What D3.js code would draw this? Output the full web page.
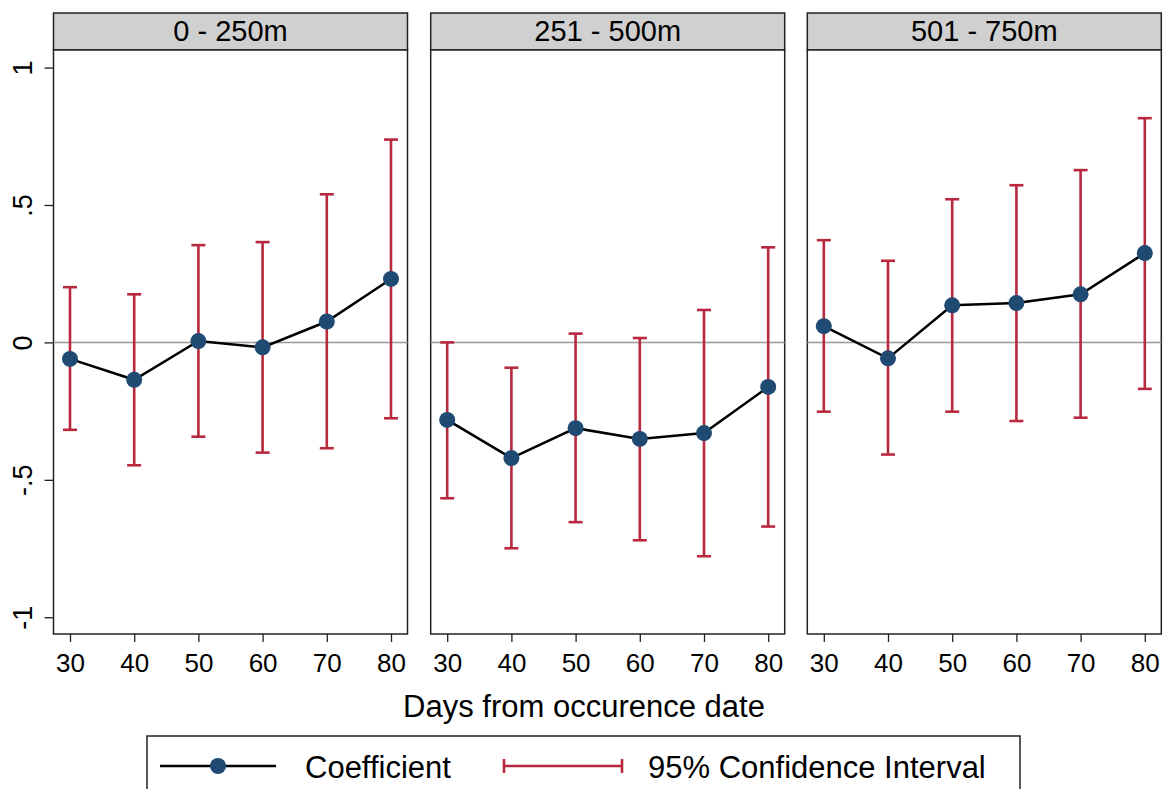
<!DOCTYPE html>
<html><head><meta charset="utf-8">
<script src="https://cdn.jsdelivr.net/npm/d3@7"></script>
<style>
body{margin:0;background:#fff;}
svg{display:block;font-family:"Liberation Sans",Arial,Helvetica,sans-serif;}
</style></head>
<body><svg id="chart" width="1170" height="789"></svg>
<script>
const panels = ["0 - 250m", "251 - 500m", "501 - 750m"];
const days = [30, 40, 50, 60, 70, 80];
const coef0 = [-0.060, -0.136, 0.005, -0.018, 0.076, 0.231];
const lo0 = [-0.318, -0.447, -0.343, -0.401, -0.385, -0.276];
const hi0 = [0.201, 0.175, 0.354, 0.365, 0.539, 0.738];
const coef1 = [-0.282, -0.421, -0.312, -0.351, -0.330, -0.162];
const lo1 = [-0.567, -0.749, -0.654, -0.720, -0.778, -0.670];
const hi1 = [0.000, -0.092, 0.032, 0.016, 0.118, 0.346];
const coef2 = [0.059, -0.058, 0.135, 0.143, 0.175, 0.325];
const lo2 = [-0.252, -0.408, -0.252, -0.286, -0.274, -0.169];
const hi2 = [0.372, 0.297, 0.521, 0.572, 0.627, 0.816];
const yTicks = [-1, -0.5, 0, 0.5, 1];
const yTickLabels = ["-1", "-.5", "0", ".5", "1"];
const xTitle = "Days from occurence date";
const legendLabels = ["Coefficient", "95% Confidence Interval"];

const coefs = [coef0, coef1, coef2], los = [lo0, lo1, lo2], his = [hi0, hi1, hi2];
const RED = "#b8283f", NAVY = "#1f4a72";
const FONT = "Liberation Sans, Arial, sans-serif";

const svg = d3.select("#chart");
const panelLeft = [53.5, 430.7, 807.3];
const panelW = 354;
const plotTop = 50, plotBottom = 634, stripTop = 13;

const y = d3.scaleLinear().domain([-1.061, 1.064]).range([plotBottom, plotTop]);

panels.forEach((name, i) => {
  const x0 = panelLeft[i];
  const x = d3.scaleLinear().domain([27.43, 82.57]).range([x0, x0 + panelW]);
  const g = svg.append("g");
  g.append("rect").attr("x", x0).attr("y", stripTop).attr("width", panelW).attr("height", plotTop - stripTop)
    .attr("fill", "#d0d0d0").attr("stroke", "#222").attr("stroke-width", 1.5);
  g.append("text").attr("x", x0 + panelW / 2).attr("y", 41).attr("text-anchor", "middle")
    .attr("font-size", 29).attr("fill", "#000").text(name);
  g.append("rect").attr("x", x0).attr("y", plotTop).attr("width", panelW).attr("height", plotBottom - plotTop)
    .attr("fill", "#fff").attr("stroke", "#222").attr("stroke-width", 1.5);
  g.append("line").attr("x1", x0).attr("x2", x0 + panelW).attr("y1", y(0)).attr("y2", y(0))
    .attr("stroke", "#999").attr("stroke-width", 1.5);
  const xa = g.append("g").attr("transform", `translate(0,${plotBottom})`)
    .call(d3.axisBottom(x).tickValues(days).tickSize(8).tickSizeOuter(0));
  xa.select(".domain").remove();
  xa.selectAll(".tick line").attr("stroke", "#222").attr("stroke-width", 1.3);
  xa.selectAll(".tick text").attr("font-size", 26).attr("fill", "#000").attr("font-family", FONT)
    .attr("y", 38).attr("dy", 0);
  if (i === 0) {
    const ya = g.append("g").attr("transform", `translate(${x0},0)`)
      .call(d3.axisLeft(y).tickValues(yTicks).tickFormat((d, k) => yTickLabels[k]).tickSize(9).tickSizeOuter(0));
    ya.select(".domain").remove();
    ya.selectAll(".tick line").attr("stroke", "#222").attr("stroke-width", 1.3);
    ya.selectAll(".tick text").attr("font-size", 27).attr("fill", "#000")
      .attr("font-family", FONT)
      .attr("text-anchor", "middle").attr("x", 0).attr("dy", 0)
      .attr("transform", `translate(${32 - x0},0) rotate(-90)`);
  }
  const rows = days.map((d, k) => ({d, c: coefs[i][k], lo: los[i][k], hi: his[i][k]}));
  rows.forEach(r => {
    const cx = x(r.d);
    g.append("line").attr("x1", cx).attr("x2", cx).attr("y1", y(r.lo)).attr("y2", y(r.hi))
      .attr("stroke", RED).attr("stroke-width", 2.6);
    [r.lo, r.hi].forEach(v => g.append("line").attr("x1", cx - 7).attr("x2", cx + 7)
      .attr("y1", y(v)).attr("y2", y(v)).attr("stroke", RED).attr("stroke-width", 2.6));
  });
  g.append("path").datum(rows)
    .attr("d", d3.line().x(r => x(r.d)).y(r => y(r.c)))
    .attr("fill", "none").attr("stroke", "#000").attr("stroke-width", 2.5);
  g.selectAll("circle.pt").data(rows).enter().append("circle")
    .attr("cx", r => x(r.d)).attr("cy", r => y(r.c)).attr("r", 8).attr("fill", NAVY);
});

svg.append("text").attr("x", 584).attr("y", 717).attr("text-anchor", "middle")
  .attr("font-size", 31).attr("fill", "#000").text(xTitle);

const lg = svg.append("g");
lg.append("rect").attr("x", 147).attr("y", 736).attr("width", 873).attr("height", 80)
  .attr("fill", "#fff").attr("stroke", "#222").attr("stroke-width", 1.5);
const ly = 766;
lg.append("line").attr("x1", 160).attr("x2", 276).attr("y1", ly).attr("y2", ly).attr("stroke", "#000").attr("stroke-width", 2.5);
lg.append("circle").attr("cx", 218).attr("cy", ly).attr("r", 8).attr("fill", NAVY);
lg.append("text").attr("x", 305).attr("y", 778).attr("font-size", 31).attr("fill", "#000").text(legendLabels[0]);
lg.append("line").attr("x1", 504).attr("x2", 622).attr("y1", ly).attr("y2", ly).attr("stroke", RED).attr("stroke-width", 2.6);
[504, 622].forEach(xx => lg.append("line").attr("x1", xx).attr("x2", xx).attr("y1", ly - 7).attr("y2", ly + 7).attr("stroke", RED).attr("stroke-width", 2.6));
lg.append("text").attr("x", 648).attr("y", 778).attr("font-size", 31).attr("fill", "#000").text(legendLabels[1]);
</script></body></html>
